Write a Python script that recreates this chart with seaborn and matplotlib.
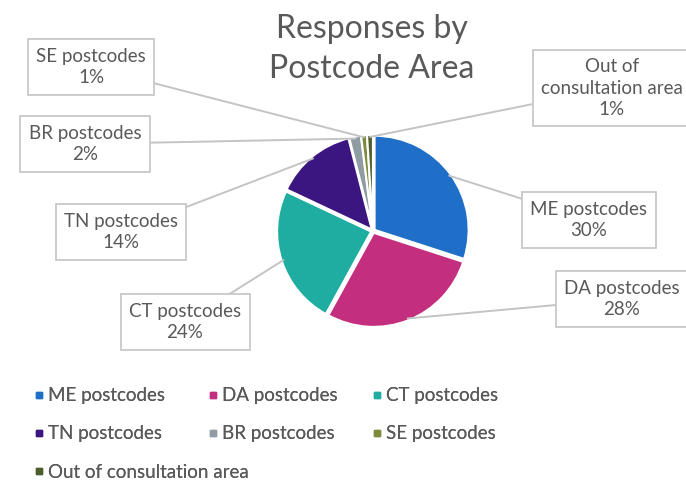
import numpy as np
import matplotlib
matplotlib.use("Agg")
import matplotlib.pyplot as plt
import seaborn as sns
from matplotlib.lines import Line2D

sns.set_theme(style="white")
plt.rcParams['font.family'] = ['Lato', 'DejaVu Sans']

categories = ["ME postcodes", "DA postcodes", "CT postcodes", "TN postcodes",
              "BR postcodes", "SE postcodes", "Out of consultation area"]
values = [30, 28, 24, 14, 2, 1, 1]
box_labels = ["ME postcodes\n30%", "DA postcodes\n28%", "CT postcodes\n24%",
              "TN postcodes\n14%", "BR postcodes\n2%", "SE postcodes\n1%",
              "Out of\nconsultation area\n1%"]
colors = ["#1f6fc8", "#c42e7e", "#1eada0", "#3b1580", "#8f9ca3", "#7d8c3c", "#4d5e2c"]

W, H = 686, 483
fig = plt.figure(figsize=(W / 100, H / 100), dpi=100)

cx, cy, r = 373, 231, 97
ax = fig.add_axes([(cx - r) / W, (H - cy - r) / H, 2 * r / W, 2 * r / H])
wedges, _ = ax.pie(values, colors=colors, startangle=90, counterclock=False,
                   radius=0.97, explode=[0.02] * len(values),
                   wedgeprops=dict(edgecolor="white", linewidth=1.5))
for w in wedges:
    w.set_clip_on(False)
ax.set_xlim(-1, 1)
ax.set_ylim(-1, 1)
ax.set_aspect("equal")
ax.axis("off")

# label box centres (image pixels)
box_pos = [(589, 220), (622, 299), (185, 322), (121, 232), (85, 144), (91, 67), (612, 88)]
text_color = "#595959"
for w, lab, (bx, by) in zip(wedges, box_labels, box_pos):
    ang = np.deg2rad((w.theta1 + w.theta2) / 2)
    px, py = 0.97 * np.cos(ang), 0.97 * np.sin(ang)
    ax.annotate(lab, xy=(px, py), xycoords="data",
                xytext=(bx, H - by), textcoords="figure pixels",
                ha="center", va="center", fontsize=13.5, color=text_color,
                linespacing=1.3,
                bbox=dict(boxstyle="square,pad=0.45", fc="white", ec="#c8c8c8", lw=1.3),
                arrowprops=dict(arrowstyle="-", color="#c4c4c4", lw=1.4,
                                shrinkA=0, shrinkB=0),
                annotation_clip=False)

fig.text(372 / W, 1 - 49 / H, "Responses by\nPostcode Area", ha="center", va="center",
         fontsize=23, color=text_color, linespacing=1.42)

# legend in three columns (row-major order as in the reference)
handles = [Line2D([], [], marker="s", linestyle="none", markersize=4,
                  color=c) for c in colors]
cols = [[0, 3, 6], [1, 4], [2, 5]]
col_x = [22, 196, 360]
for idxs, x in zip(cols, col_x):
    leg = fig.legend([handles[i] for i in idxs], [categories[i] for i in idxs],
                     loc="upper left", bbox_to_anchor=(x / W, 1 - 380 / H),
                     frameon=False, fontsize=13.5, labelcolor=text_color,
                     handletextpad=0.0, handlelength=1.0, labelspacing=1.12,
                     borderaxespad=0)
    fig.add_artist(leg)

fig.savefig("out.png", dpi=100)
